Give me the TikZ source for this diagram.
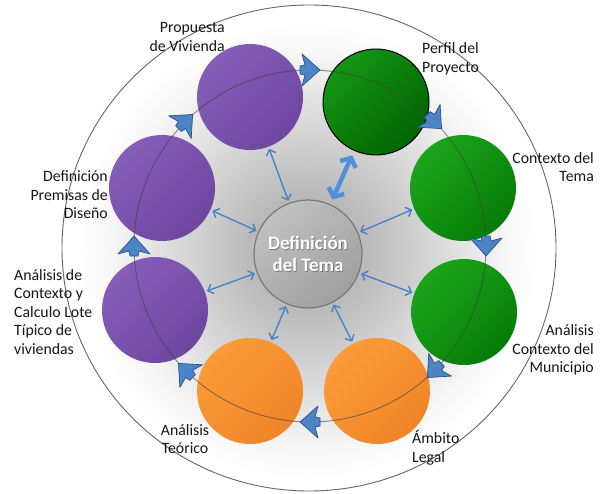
\documentclass[tikz,border=0pt]{standalone}
\usepackage{fontspec}
\setmainfont{Carlito}
\usetikzlibrary{arrows.meta}

\definecolor{purpL}{RGB}{134,94,186}
\definecolor{purpD}{RGB}{110,70,160}
\definecolor{greenL}{RGB}{28,164,28}
\definecolor{greenD}{RGB}{6,124,6}
\definecolor{perfL}{RGB}{20,150,20}
\definecolor{perfD}{RGB}{2,100,2}
\definecolor{orangeL}{RGB}{250,156,56}
\definecolor{orangeD}{RGB}{240,132,40}
\definecolor{hubL}{RGB}{192,192,192}
\definecolor{hubD}{RGB}{160,160,160}
\definecolor{hubEdge}{RGB}{120,120,120}
\definecolor{linkBlue}{RGB}{72,130,200}
\definecolor{boldBlue}{RGB}{78,146,220}
\definecolor{cycFill}{RGB}{76,132,198}
\definecolor{cycEdge}{RGB}{40,82,140}
\definecolor{labelInk}{RGB}{22,22,22}

% soft grey glow behind the ring of spheres (25bp = path radius)
\pgfdeclareradialshading{bgglow}{\pgfpoint{0bp}{0bp}}{%
  color(0bp)=(black!30); color(6bp)=(black!27); color(13bp)=(black!15);
  color(20bp)=(black!3); color(23bp)=(white); color(50bp)=(white)}

\tikzset{
  sphere/.style={circle, minimum size=106pt, inner sep=0pt},
  purp/.style={sphere, top color=purpL, bottom color=purpD, shading angle=45},
  grn/.style={sphere, top color=greenL, bottom color=greenD, shading angle=45},
  perf/.style={sphere, top color=perfL, bottom color=perfD, shading angle=45,
    draw=black, line width=1pt},
  orng/.style={sphere, top color=orangeL, bottom color=orangeD, shading angle=45},
  hub/.style={circle, minimum size=108pt, inner sep=0pt, top color=hubL,
    bottom color=hubD, shading angle=40, draw=hubEdge, line width=1.2pt},
  hubtext/.style={align=center, font=\fontsize{19}{22}\selectfont\bfseries,
    inner sep=0pt},
  lbl/.style={font=\fontsize{15.8}{18.5}\selectfont, text=labelInk, inner sep=0pt},
  ringline/.style={draw=black!75, line width=0.9pt, opacity=0.6},
  thinlink/.style={draw=linkBlue, line width=1.4pt,
    {Straight Barb[length=5pt,width=10pt]}-{Straight Barb[length=5pt,width=10pt]},
    shorten <=2pt, shorten >=2pt},
  boldlink/.style={draw=boldBlue, line width=4.5pt,
    {Straight Barb[length=7pt,width=17pt]}-{Straight Barb[length=7pt,width=17pt]},
    shorten <=5pt, shorten >=5pt},
  cycarrow/.pic={
    \filldraw[fill=cycFill, draw=cycEdge, line width=0.7pt, line join=round]
      (10,0) -- (-8,16) -- (-5,5) -- (-10,4) -- (-10,-4) -- (-5,-5) -- (-8,-16) -- cycle;
  }
}

\begin{document}
\begin{tikzpicture}[x=1pt,y=1pt]
  \useasboundingbox (0,0) rectangle (601,493);
  \fill[white] (0,0) rectangle (601,493);

  % background glow inside the outer ring
  \begin{scope}
    \clip (309,245) ellipse [x radius=247pt, y radius=243pt];
    \shade[shading=bgglow] (308,242) circle [radius=250pt];
  \end{scope}
  \draw[black!60, line width=0.9pt] (309,245) ellipse [x radius=247pt, y radius=243pt];

  % the eight stages
  \node[purp] (p1) at (250,396) {};
  \node[perf] (p2) at (376,391) {};
  \node[grn]  (p3) at (463,305) {};
  \node[grn]  (p4) at (464,181) {};
  \node[orng] (p5) at (377,102) {};
  \node[orng] (p6) at (250,102) {};
  \node[purp] (p7) at (155,183) {};
  \node[purp] (p8) at (162,305) {};

  % cycle track
  \coordinate (ring) at (310,247);
  \draw[ringline] (ring) circle [radius=176pt];

  % central topic
  \node[hub] (c) at (308,239) {};
  \node[hubtext, text=black!60, opacity=0.7] (cshadow) at ([shift={(0.9,-0.9)}]c.center)
    {Definición\\del Tema};
  \node[hubtext, text=white] (ctext) at (c.center) {Definición\\del Tema};

  % links from the centre to every stage
  \draw[thinlink] (c) -- (p1);
  \draw[boldlink] (c) -- (p2);
  \draw[thinlink] (c) -- (p3);
  \draw[thinlink] (c) -- (p4);
  \draw[thinlink] (c) -- (p5);
  \draw[thinlink] (c) -- (p6);
  \draw[thinlink] (c) -- (p7);
  \draw[thinlink] (c) -- (p8);

  % clockwise arrowheads on the track
  \path (ring) ++(90:176pt)   pic[rotate=0]    {cycarrow};
  \path (ring) ++(45:176pt)   pic[rotate=-45]  {cycarrow};
  \path (ring) ++(0:176pt)    pic[rotate=-90]  {cycarrow};
  \path (ring) ++(-45:176pt)  pic[rotate=-135] {cycarrow};
  \path (ring) ++(-90:176pt)  pic[rotate=180]  {cycarrow};
  \path (ring) ++(-135:176pt) pic[rotate=135]  {cycarrow};
  \path (ring) ++(180:176pt)  pic[rotate=90]   {cycarrow};
  \path (ring) ++(135:176pt)  pic[rotate=45]   {cycarrow};

  % stage labels
  \node[lbl, align=right, anchor=east] (l1) at (225,456) {Propuesta\\de Vivienda};
  \node[lbl, align=left, anchor=west]  (l2) at (422,434) {Perfil del\\Proyecto};
  \node[lbl, align=right, anchor=east] (l3) at (594,326) {Contexto del\\Tema};
  \node[lbl, align=right, anchor=east] (l4) at (594,143) {Análisis\\Contexto del\\Municipio};
  \node[lbl, align=left, anchor=west]  (l5) at (412,45)  {Ámbito\\Legal};
  \node[lbl, align=center]             (l6) at (185,54)  {Análisis\\Teórico};
  \node[lbl, align=left, anchor=west]  (l7) at (14,181)  {Análisis de\\Contexto y\\Calculo Lote\\Típico de\\viviendas};
  \node[lbl, align=right, anchor=east] (l8) at (108,298) {Definición\\Premisas de\\Diseño};
\end{tikzpicture}
\end{document}
